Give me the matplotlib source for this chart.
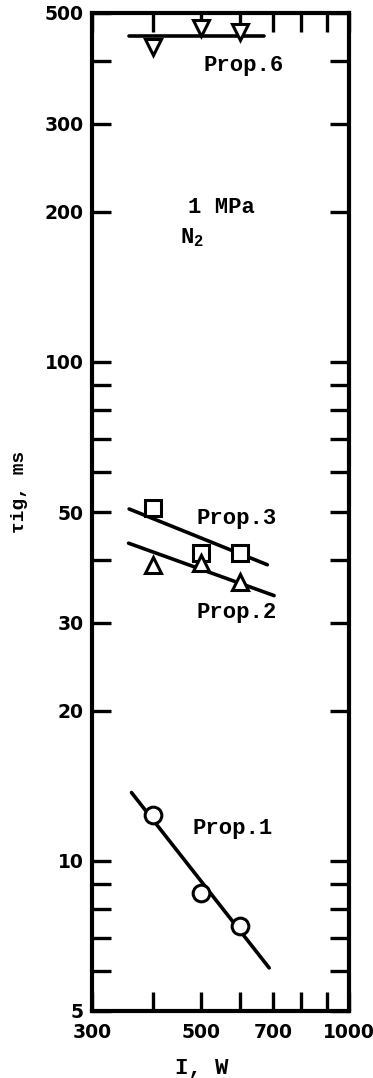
import matplotlib

matplotlib.use("Agg")
import matplotlib.pyplot as plt
from matplotlib.ticker import FixedLocator, FixedFormatter, NullFormatter

plt.rcParams["mathtext.default"] = "regular"

# measured points (I in W, tau_ig in ms)
power = [400, 500, 600]
prop6 = [427, 466, 458]
prop3 = [50.9, 41.4, 41.4]
prop2 = [39.2, 39.6, 36.2]
prop1 = [12.35, 8.62, 7.40]

# fitted lines (end points)
prop6_fit_x = [356, 672]
prop6_fit_y = [450, 450]
prop3_fit_x = [357, 682]
prop3_fit_y = [50.7, 39.2]
prop2_fit_x = [356, 704]
prop2_fit_y = [43.3, 34.0]
prop1_fit_x = [361, 688]
prop1_fit_y = [13.7, 6.10]

x_major = [300, 500, 700, 1000]
x_minor = [400, 600, 800, 900]
y_major = [5, 10, 20, 30, 50, 100, 200, 300, 500]
y_minor = [6, 7, 8, 9, 40, 60, 70, 80, 90, 400]

mono = ["Liberation Mono", "DejaVu Sans Mono"]

fig = plt.figure(figsize=(3.73, 10.78), dpi=100)
ax = fig.add_axes([92 / 373, 67 / 1078, 257 / 373, 998 / 1078])
ax.set_xscale("log")
ax.set_yscale("log")
ax.set_xlim(300, 1000)
ax.set_ylim(5, 500)

line_kw = dict(color="black", lw=2.6, solid_capstyle="round", zorder=2)
mk_kw = dict(ls="none", color="black", mfc="white", mew=2.2, zorder=3)

ax.plot(prop6_fit_x, prop6_fit_y, **line_kw)
ax.plot(prop3_fit_x, prop3_fit_y, **line_kw)
ax.plot(prop2_fit_x, prop2_fit_y, **line_kw)
ax.plot(prop1_fit_x, prop1_fit_y, **line_kw)

ax.plot(power, prop6, marker="v", ms=12, **mk_kw)
ax.plot(power, prop3, marker="s", ms=11, **mk_kw)
ax.plot(power, prop2, marker="^", ms=12, **mk_kw)
ax.plot(power, prop1, marker="o", ms=12, **mk_kw)

# ticks
ax.xaxis.set_major_locator(FixedLocator(x_major))
ax.xaxis.set_major_formatter(FixedFormatter([str(v) for v in x_major]))
ax.xaxis.set_minor_locator(FixedLocator(x_minor))
ax.xaxis.set_minor_formatter(NullFormatter())
ax.yaxis.set_major_locator(FixedLocator(y_major))
ax.yaxis.set_major_formatter(FixedFormatter([str(v) for v in y_major]))
ax.yaxis.set_minor_locator(FixedLocator(y_minor))
ax.yaxis.set_minor_formatter(NullFormatter())

ax.tick_params(which="both", direction="in", top=True, right=True,
               length=14, width=2.4, color="black")
ax.tick_params(axis="x", which="major", pad=9)
ax.tick_params(axis="y", which="major", pad=6)
for t in ax.yaxis.get_major_ticks():
    if t.get_loc() in (10, 100):
        t.tick1line.set_markersize(29)
        t.tick2line.set_markersize(29)

for lab in ax.get_xticklabels() + ax.get_yticklabels():
    lab.set_fontfamily("DejaVu Sans")
    lab.set_fontweight("bold")
    lab.set_fontsize(13.5)

for sp in ax.spines.values():
    sp.set_linewidth(3)

# annotations
txt = dict(family=mono, weight="bold", fontsize=16, ha="center", va="center")
ax.text(609, 393, "Prop.6", **txt)
ax.text(592, 48.6, "Prop.3", **txt)
ax.text(592, 31.4, "Prop.2", **txt)
ax.text(581, 11.6, "Prop.1", **txt)
ax.text(470, 204, "1 MPa", family=mono, weight="bold", fontsize=16,
        ha="left", va="center")
ax.text(453, 177, r"N$_2$", family=mono, weight="bold", fontsize=16,
        ha="left", va="center")

fig.text(202 / 373, 1 - 1068 / 1078, "I, W", family=mono, weight="bold",
         fontsize=16, ha="center", va="center")
fig.text(20 / 373, 1 - 492 / 1078, "τig, ms", family=mono, weight="bold",
         fontsize=14, ha="center", va="center", rotation=90)

fig.savefig("out.png", dpi=100)
plt.close(fig)
